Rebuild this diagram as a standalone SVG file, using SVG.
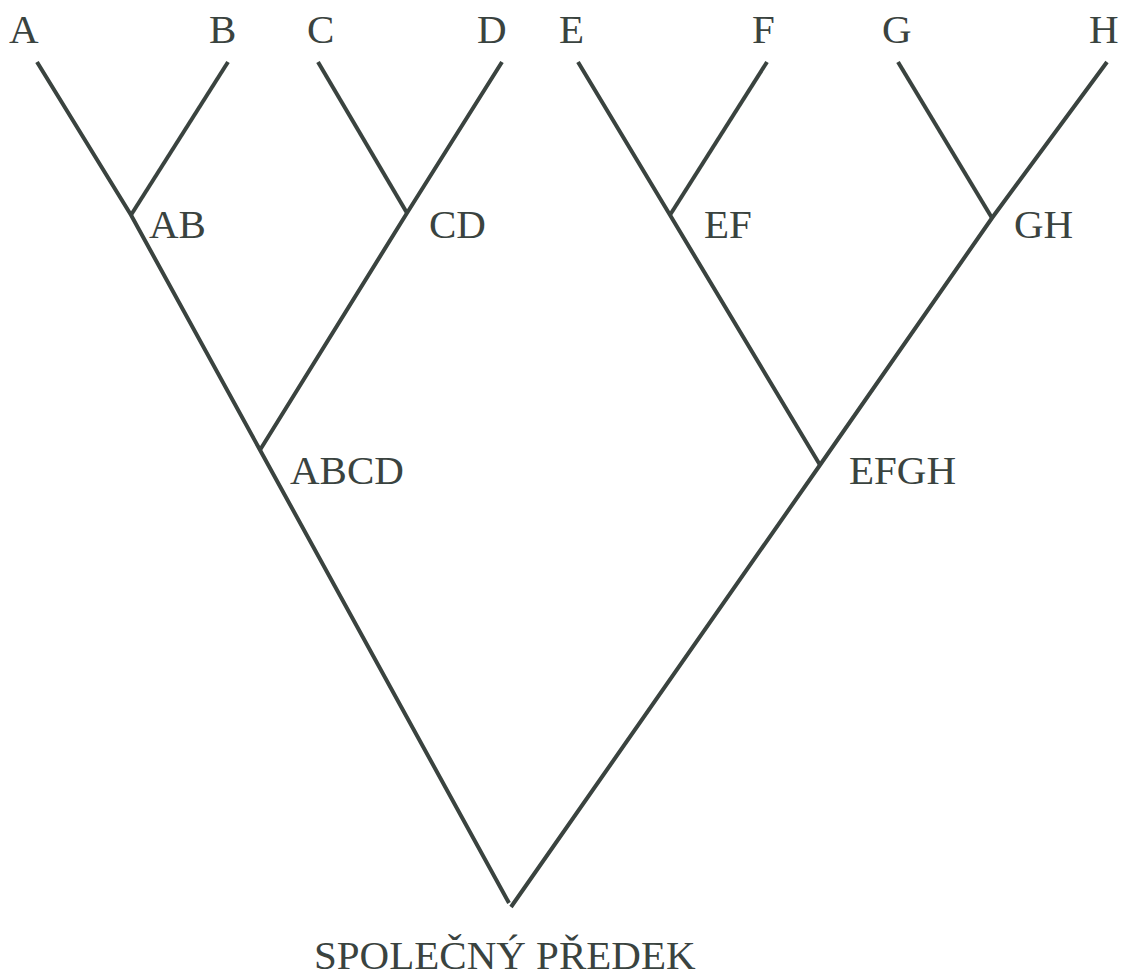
<svg xmlns="http://www.w3.org/2000/svg" width="1123" height="976" viewBox="0 0 1123 976">
<style>
.lbl{font-family:"Liberation Serif","Times New Roman",serif;font-size:41px;fill:#3a433f}
.br{fill:none;stroke:#3a433f;stroke-width:4;stroke-linecap:butt;stroke-linejoin:miter}
</style>
<rect width="1123" height="976" fill="#ffffff"/>
<g id="connectors">
<polyline class="br" points="37,62 131,215 260,450 509,903"/>
<polyline class="br" points="228,62 131,215"/>
<polyline class="br" points="318,62 407,213"/>
<polyline class="br" points="502,62 407,213 260,450"/>
<polyline class="br" points="578,62 670,215 820,465"/>
<polyline class="br" points="767,62 670,215"/>
<polyline class="br" points="898,62 992,218"/>
<polyline class="br" points="1107,62 992,218 820,465 511,907"/>
</g>
<g id="node-A"><text class="lbl" x="9" y="43">A</text></g>
<g id="node-B"><text class="lbl" x="209" y="43">B</text></g>
<g id="node-C"><text class="lbl" x="307" y="43">C</text></g>
<g id="node-D"><text class="lbl" x="477" y="43">D</text></g>
<g id="node-E"><text class="lbl" x="559" y="43">E</text></g>
<g id="node-F"><text class="lbl" x="752" y="43">F</text></g>
<g id="node-G"><text class="lbl" x="882" y="43">G</text></g>
<g id="node-H"><text class="lbl" x="1089" y="43">H</text></g>
<g id="node-AB"><text class="lbl" x="149" y="238">AB</text></g>
<g id="node-CD"><text class="lbl" x="429" y="238">CD</text></g>
<g id="node-EF"><text class="lbl" x="704" y="238">EF</text></g>
<g id="node-GH"><text class="lbl" x="1014" y="238">GH</text></g>
<g id="node-ABCD"><text class="lbl" x="290" y="484">ABCD</text></g>
<g id="node-EFGH"><text class="lbl" x="849" y="484">EFGH</text></g>
<g id="node-root"><text class="lbl" x="314" y="969">SPOLEČNÝ PŘEDEK</text></g>
</svg>
